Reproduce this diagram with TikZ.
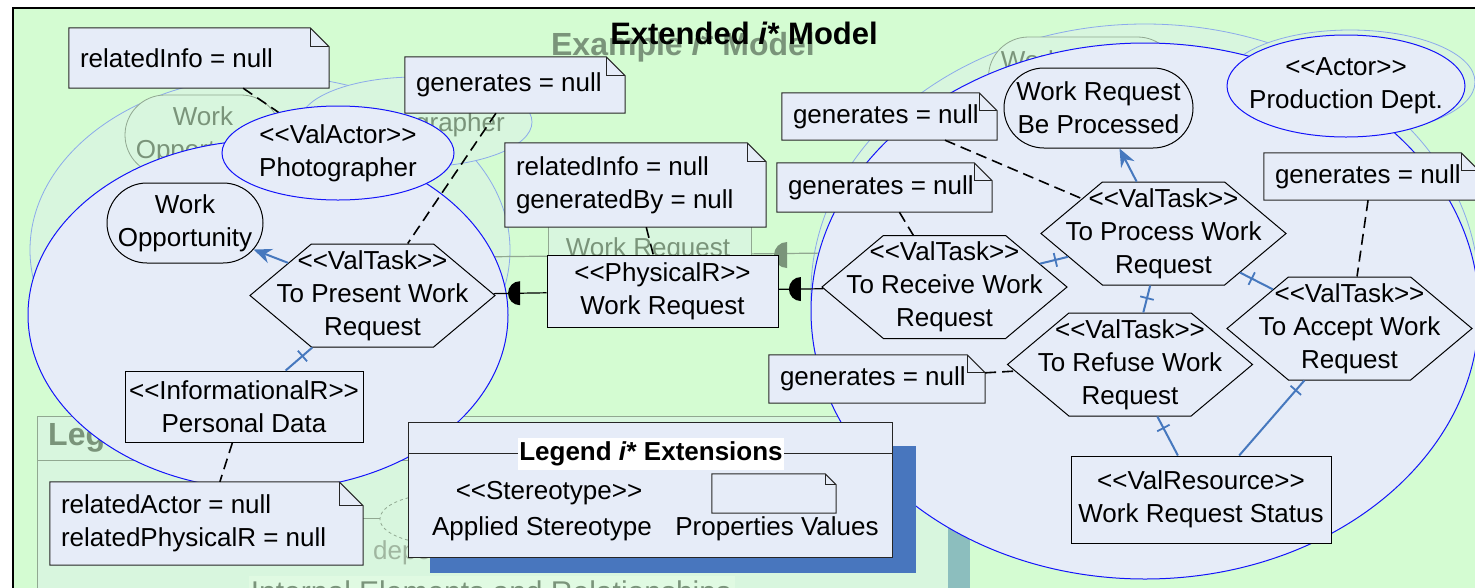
\documentclass[tikz,border=0pt]{standalone}
\usepackage{fontspec}
\setmainfont{Liberation Sans}
\usetikzlibrary{shapes.symbols,shapes.misc,shapes.geometric,arrows.meta,calc,decorations.markings}

\definecolor{bggreen}{RGB}{212,252,210}
\definecolor{nodefill}{RGB}{230,236,248}
\definecolor{bndblue}{RGB}{20,20,250}
\definecolor{ghostline}{RGB}{140,170,235}
\definecolor{ghostfill}{RGB}{216,246,222}
\definecolor{ghostlight}{RGB}{224,250,226}
\definecolor{ghosttext}{RGB}{122,148,122}
\definecolor{ghostpale}{RGB}{160,182,160}
\definecolor{ghostedge}{RGB}{145,168,145}
\definecolor{linkblue}{RGB}{70,120,190}
\definecolor{shadowblue}{RGB}{72,118,190}
\definecolor{ghostteal}{RGB}{140,190,190}

\newcommand\st[1]{<{}<#1>{}>}

\tikzset{
 txt/.style={font=\fontsize{26}{33}\selectfont, align=center, inner sep=0pt},
 shp/.style={inner sep=0pt, draw=black, line width=1pt, fill=nodefill},
 task/.style={shp, signal, signal to=west and east, signal pointer angle=80, minimum width=245pt, minimum height=103pt},
 goal/.style={shp, rounded rectangle, minimum height=80pt},
 res/.style={shp, rectangle},
 actor/.style={shp, ellipse, draw=bndblue},
 bnd/.style={draw=bndblue, line width=1pt, fill=nodefill},
 ghostell/.style={draw=ghostline, line width=0.8pt, fill=ghostfill},
 ghosttxt/.style={txt, text=ghosttext},
 ghostbox/.style={draw=ghostedge, line width=0.8pt, fill=ghostfill, inner sep=0pt},
 dashlink/.style={draw=black, line width=1.6pt, dash pattern=on 11pt off 6pt},
 deplink/.style={draw=black, line width=1.2pt},
 meansend/.style={draw=linkblue, line width=2pt, -{Stealth[length=18pt,width=15pt]}},
 decomp/.style={draw=linkblue, line width=2pt,
   decoration={markings, mark=at position 13pt with {\draw[linkblue, line width=1.8pt] (0pt,-7pt) -- (0pt,7pt);}},
   postaction={decorate}},
 notebg/.style={draw=black!85, line width=1pt, fill=nodefill},
 box/.style={inner sep=0pt, draw=none}
}

\newcommand\notebox[6]{%
 \node[box, minimum width=#3pt, minimum height=#4pt] (#1) at (#2) {};
 \filldraw[notebg] (#1.south west) -- (#1.north west) -- ([xshift=-#5pt]#1.north east) -- ([yshift=-#5pt]#1.north east) -- (#1.south east) -- cycle;
 \draw[notebg, fill=none] ([xshift=-#5pt]#1.north east) |- ([yshift=-#5pt]#1.north east);
 \node[txt, align=left, anchor=west] (#1-t) at ([xshift=11pt]#1.west) {#6};
}

\newcommand\dmark[2]{% half circle, bulge to the left
 \fill[#2] (#1) ++(0pt,12pt) arc[start angle=90, end angle=270, radius=12pt] -- cycle;
}

\begin{document}
\begin{tikzpicture}[x=1pt,y=-1pt]
\useasboundingbox (0,0) rectangle (1475,587);
\clip (0,0) rectangle (1475,587);
\fill[white] (0,0) rectangle (1475,587);
\filldraw[fill=bggreen, draw=black, line width=1.5pt] (13,8) rectangle (1520,640);

% ---------- ghost (faded underlying model) ----------
\filldraw[ghostbox, fill=ghostfill] (37,416) rectangle (948,660);
\fill[ghostteal] (948,527) rectangle (970,660);
\draw[ghostedge, line width=0.8pt] (37,460) -- (948,460);
\node[ghosttxt, font=\bfseries\fontsize{32}{36}\selectfont, anchor=west] (gleg) at (48,437) {Legend};
\fill[ghostlight] (249,576) rectangle (735,600);
\node[ghosttxt, anchor=north, font=\fontsize{30}{34}\selectfont] (gint) at (491,581) {Internal Elements and Relationships};
\draw[ghostedge, line width=0.8pt, dashed] (440,519) ellipse [x radius=60, y radius=25];
\draw[ghostedge, line width=1pt] (340,518) -- (380,518);
\node[txt, text=ghostpale, anchor=west] (gdep) at (373,553) {dependum};

\filldraw[ghostell] (270,250) ellipse [x radius=240, y radius=174];
\filldraw[ghostell] (1145,292) ellipse [x radius=334, y radius=268];
\filldraw[ghostell] (416,122) ellipse [x radius=116, y radius=45];
\filldraw[ghostell] (1350,82) ellipse [x radius=125, y radius=52];
\node[ghosttxt] (gphot) at (426,125) {Photographer};
\node[ghostbox, rounded rectangle, minimum width=156pt, minimum height=80pt] (gg1) at (203,135) {};
\node[ghosttxt] (gg1t) at (gg1) {Work\\Opportunity};
\node[ghostbox, rounded rectangle, minimum width=189pt, minimum height=80pt] (gg2) at (1083,77) {};
\node[ghosttxt] (gg2t) at (gg2) {Work Request\\Be Processed};

\draw[ghostedge, line width=1.2pt] (470,257) -- (830,253);
\node[ghostbox, minimum width=203pt, minimum height=60pt] (gwr) at (649.5,256) {};
\node[ghosttxt] (gwrt) at (648,250) {Work Request};
\fill[ghosttext] (787,255) ++(0pt,13pt) arc[start angle=90, end angle=270, radius=13pt] -- cycle;

\node[ghosttxt, font=\bfseries\fontsize{32}{36}\selectfont] (gtitle) at (683,47) {Example \textit{i}* Model};

% ---------- actor boundaries ----------
\filldraw[bnd] (268,315) ellipse [x radius=240, y radius=175];
\filldraw[bnd] (1145,311) ellipse [x radius=334, y radius=268];

\node[font=\bfseries\fontsize{31}{36}\selectfont, inner sep=0pt] (title) at (744,33) {Extended \textit{i}* Model};

% ---------- actors ----------
\node[actor, minimum width=232pt, minimum height=94pt] (a1) at (338,153) {};
\node[txt] (a1t) at (a1) {\st{ValActor}\\Photographer};
\node[actor, minimum width=238pt, minimum height=102pt] (a2) at (1346,86) {};
\node[txt] (a2t) at (a2) {\st{Actor}\\Production Dept.};

% ---------- goals ----------
\node[goal, minimum width=156pt] (g1) at (185,223) {};
\node[txt] (g1t) at (g1) {Work\\Opportunity};
\node[goal, minimum width=189pt] (g2) at (1098.5,108) {};
\node[txt] (g2t) at (g2) {Work Request\\Be Processed};

% ---------- tasks ----------
\node[task] (t1) at (372.5,295.5) {};
\node[txt] (t1t) at (t1) {\st{ValTask}\\To Present Work\\Request};
\node[task] (t2) at (944.5,287) {};
\node[txt] (t2t) at (t2) {\st{ValTask}\\To Receive Work\\Request};
\node[task] (t3) at (1163.5,233.5) {};
\node[txt] (t3t) at (t3) {\st{ValTask}\\To Process Work\\Request};
\node[task] (t4) at (1130,364.5) {};
\node[txt] (t4t) at (t4) {\st{ValTask}\\To Refuse Work\\Request};
\node[task] (t5) at (1349.5,328.5) {};
\node[txt] (t5t) at (t5) {\st{ValTask}\\To Accept Work\\Request};

% ---------- resources ----------
\node[res, minimum width=231pt, minimum height=72pt] (r1) at (662.5,291) {};
\node[txt] (r1t) at (r1) {\st{PhysicalR}\\Work Request};
\node[res, minimum width=238pt, minimum height=71pt] (pd) at (244,406.5) {};
\node[txt] (pdt) at (pd) {\st{InformationalR}\\Personal Data};
\node[res, minimum width=260pt, minimum height=87pt] (wrs) at (1201,499.5) {};
\node[txt] (wrst) at (wrs) {\st{ValResource}\\Work Request Status};

% ---------- notes ----------
\notebox{n1}{199,58}{260}{60}{19}{relatedInfo = null}
\notebox{n2}{515,85}{220}{56}{19}{generates = null}
\notebox{n3}{635.5,185}{261}{84}{19}{relatedInfo = null\\generatedBy = null}
\notebox{n4}{889.5,116.5}{215}{47}{18}{generates = null}
\notebox{n5}{884.5,187.5}{215}{49}{18}{generates = null}
\notebox{n6}{1371.5,176.5}{215}{47}{18}{generates = null}
\notebox{n7}{877,379}{216}{48}{18}{generates = null}
\notebox{n8}{206.5,523.5}{313}{83}{24}{relatedActor = null\\relatedPhysicalR = null}

% ---------- dashed property links ----------
\draw[dashlink] (n1) -- (a1);
\draw[dashlink] (n2) -- (t1);
\draw[dashlink] (n3) -- (r1);
\draw[dashlink] (n4) -- (t3);
\draw[dashlink] (n5) -- (t2);
\draw[dashlink] (n6) -- (t5);
\draw[dashlink] (n7) -- (t4);
\draw[dashlink] (pd) -- (n8);

% ---------- means-end ----------
\draw[meansend] (t1) -- (g1);
\draw[meansend] (t3) -- (g2);

% ---------- decompositions ----------
\draw[decomp] (t1) -- (pd);
\draw[decomp] (t3) -- (t2);
\draw[decomp] (t3) -- (t4);
\draw[decomp] (t3) -- (t5);
\draw[decomp] (t4) -- (wrs);
\draw[decomp] (t5) -- (wrs);

% ---------- dependencies ----------
\draw[deplink] (t1) -- (r1) coordinate[pos=0.5] (d1);
\draw[deplink] (r1) -- (t2) coordinate[pos=0.5] (d2);
\dmark{d1}{black}
\dmark{d2}{black}

% ---------- legend ----------
\fill[shadowblue] (430,446) rectangle (916,573);
\node[shp, draw=black!85, minimum width=484pt, minimum height=135pt] (leg) at (650,489.5) {};
\draw[black!85, line width=1pt] ([yshift=-32pt]leg.north west) -- ([yshift=-32pt]leg.north east);
\node[font=\bfseries\fontsize{26}{30}\selectfont, fill=white, inner xsep=1pt, inner ysep=4pt] (legt) at (651,454) {Legend \textit{i}* Extensions};
\node[txt] (legs) at (549,493) {\st{Stereotype}};
\node[txt] (lega) at (542,529) {Applied Stereotype};
\notebox{legn}{774,493.5}{124}{39}{11}{}
\node[txt] (legp) at (777,529) {Properties Values};
\end{tikzpicture}
\end{document}
